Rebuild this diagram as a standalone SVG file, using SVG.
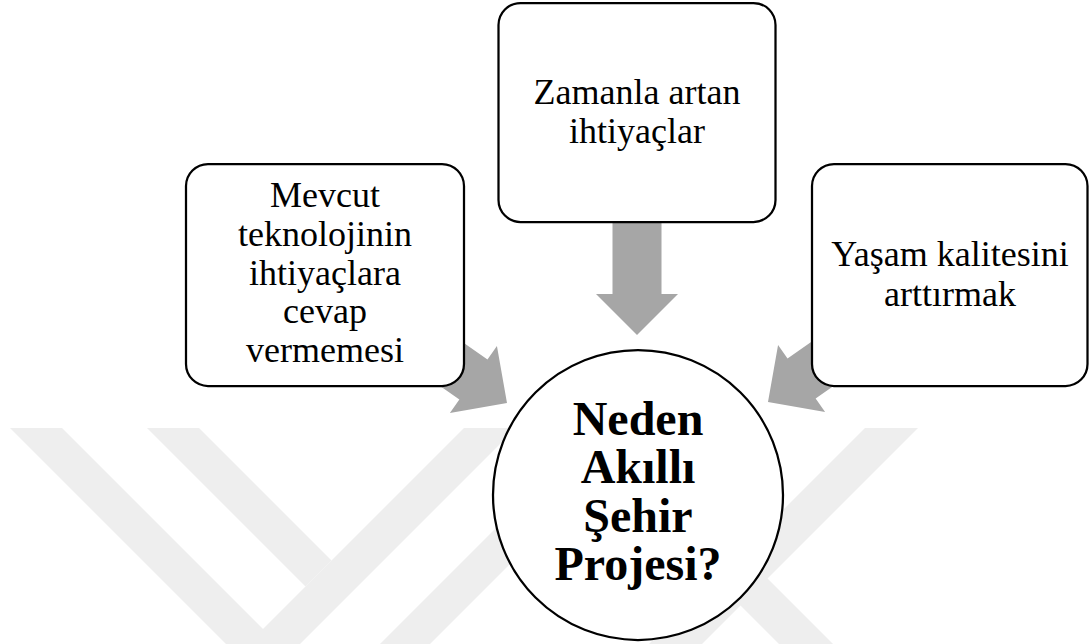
<svg xmlns="http://www.w3.org/2000/svg" width="1089" height="644" viewBox="0 0 1089 644">
  <defs>
    <style>
      .mark { fill: #eeeeee; }
      .arrow { fill: #a6a6a6; }
      .box { fill: #ffffff; stroke: #000000; stroke-width: 2.25; }
      .label { font-family: "Liberation Serif", "Times New Roman", serif; font-size: 36px; fill: #000000; text-anchor: middle; }
      .title { font-family: "Liberation Serif", "Times New Roman", serif; font-size: 48px; font-weight: bold; fill: #000000; text-anchor: middle; }
    </style>
    <!-- block arrow pointing along +x, tip at the origin -->
    <polygon id="blockArrow" points="0,0 -41,41 -41,24.5 -140,24.5 -140,-24.5 -41,-24.5 -41,-41"/>
  </defs>

  <rect width="1089" height="644" fill="#ffffff"/>

  <!-- faint background stripes -->
  <g id="background-mark">
    <polygon class="mark" points="10,428 62,428 278,644 226,644"/>
    <polygon class="mark" points="147,428 199,428 331.5,560.5 305.5,586.5"/>
    <polygon class="mark" points="464,428 516,428 300,644 248,644"/>
    <polygon class="mark" points="596,428 646,428 430,644 380,644"/>
    <polygon class="mark" points="865,428 918,428 702,644 649,644"/>
    <polygon class="mark" points="741,552 833,644 779,644 714,579"/>
  </g>

  <!-- arrows from each reason toward the central question -->
  <g id="connectors">
    <use href="#blockArrow" class="arrow" transform="translate(507,403) rotate(35)"/>
    <use href="#blockArrow" class="arrow" transform="translate(637,335) rotate(90)"/>
    <use href="#blockArrow" class="arrow" transform="translate(768,402) rotate(145)"/>
  </g>

  <g id="node-left">
    <rect class="box" x="186" y="164" width="278" height="222" rx="22" ry="22"/>
    <text class="label" x="325" y="207">Mevcut</text>
    <text class="label" x="325" y="246">teknolojinin</text>
    <text class="label" x="325" y="285">ihtiyaçlara</text>
    <text class="label" x="325" y="323">cevap</text>
    <text class="label" x="325" y="362">vermemesi</text>
  </g>

  <g id="node-top">
    <rect class="box" x="498.5" y="3" width="277" height="219" rx="22" ry="22"/>
    <text class="label" x="637" y="104">Zamanla artan</text>
    <text class="label" x="637" y="143">ihtiyaçlar</text>
  </g>

  <g id="node-right">
    <rect class="box" x="812" y="164" width="275.5" height="222" rx="22" ry="22"/>
    <text class="label" x="950" y="266">Yaşam kalitesini</text>
    <text class="label" x="950" y="306">arttırmak</text>
  </g>

  <g id="node-center">
    <circle class="box" cx="638" cy="495" r="145"/>
    <text class="title" x="638" y="435">Neden</text>
    <text class="title" x="638" y="483">Akıllı</text>
    <text class="title" x="638" y="532">Şehir</text>
    <text class="title" x="638" y="580">Projesi?</text>
  </g>
</svg>
